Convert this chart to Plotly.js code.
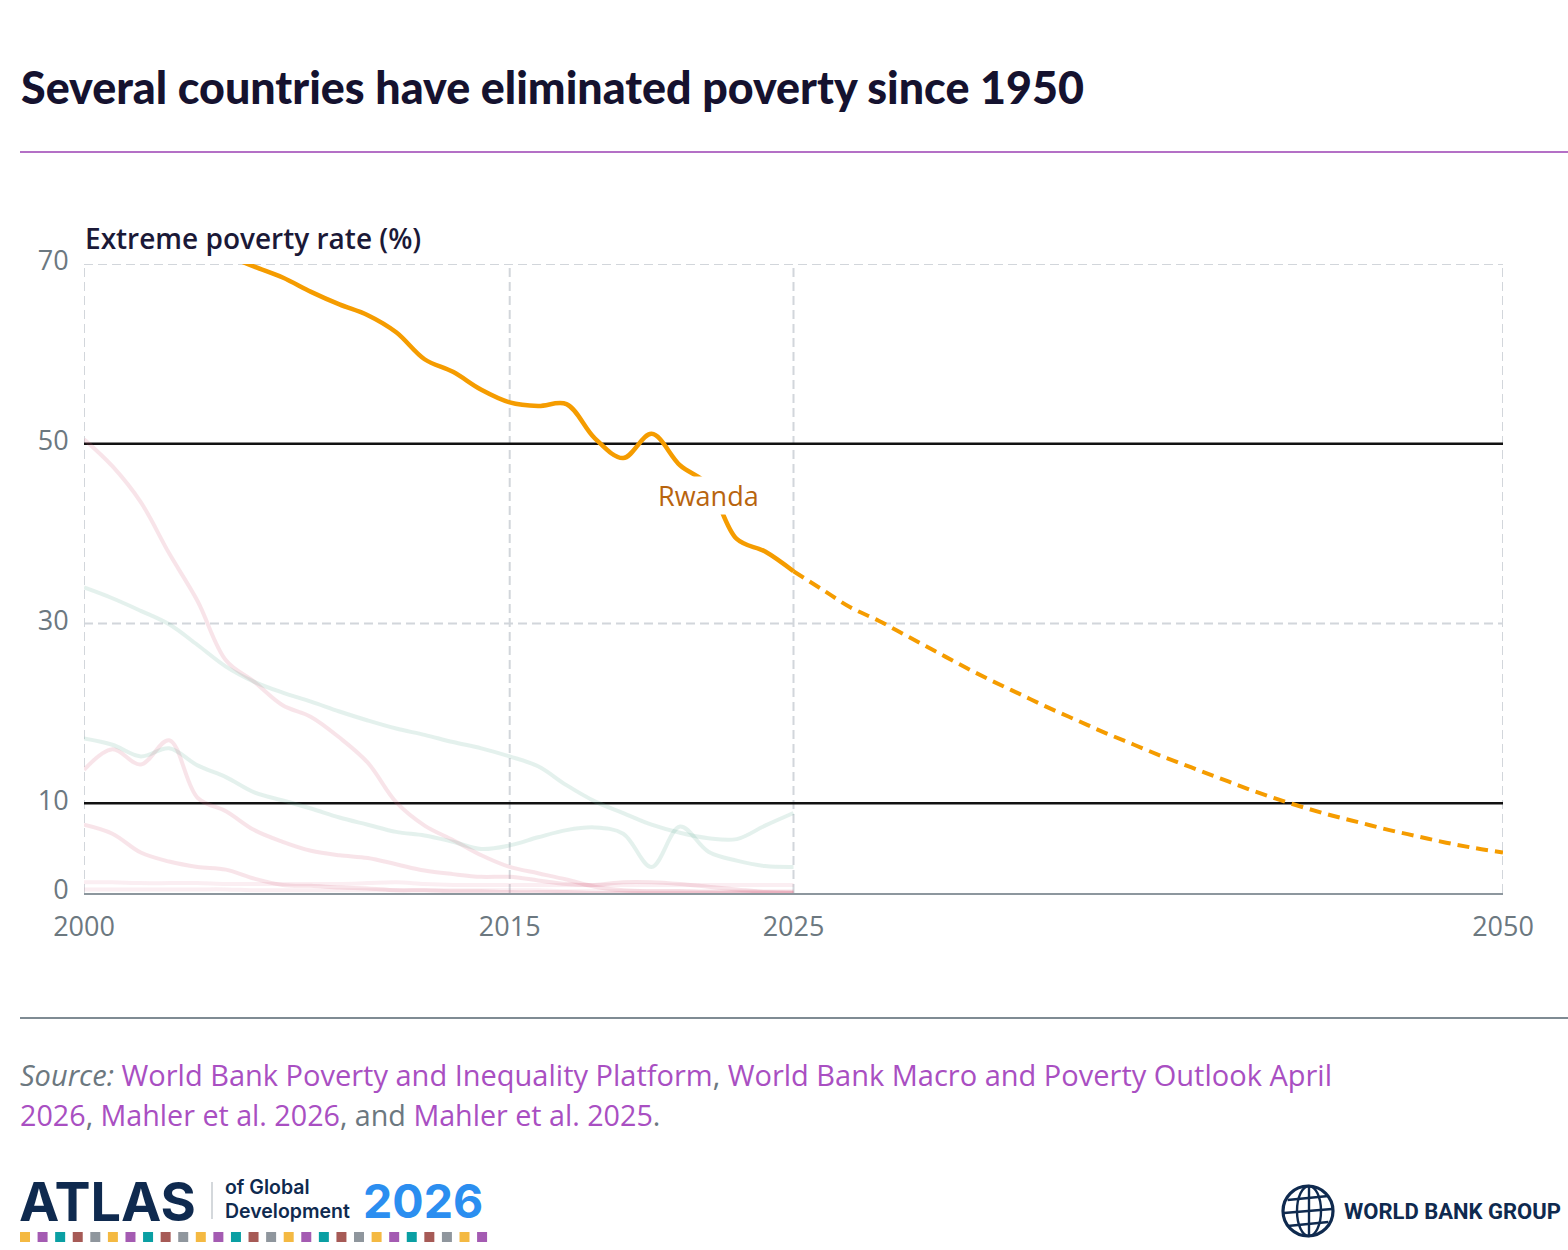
<!DOCTYPE html>
<html>
<head>
<meta charset="utf-8">
<script src="https://cdn.plot.ly/plotly-3.0.1.min.js"></script>
<style>
  html, body { margin: 0; padding: 0; background: #ffffff; }
  #chart { width: 1568px; height: 1250px; }
</style>
</head>
<body>
<div id="chart"></div>
<script>
// ---- data -------------------------------------------------------------
const histYears = [2000, 2001, 2002, 2003, 2004, 2005, 2006, 2007, 2008, 2009,
                   2010, 2011, 2012, 2013, 2014, 2015, 2016, 2017, 2018, 2019,
                   2020, 2021, 2022, 2023, 2024, 2025];
const projYears = [2025, 2026, 2027, 2028, 2029, 2030, 2031, 2032, 2033, 2034,
                   2035, 2036, 2037, 2038, 2039, 2040, 2041, 2042, 2043, 2044,
                   2045, 2046, 2047, 2048, 2049, 2050];

// Rwanda: observed/nowcast and projected extreme poverty rate (%)
const rwandaHist = [77.0, 76.0, 74.8, 73.5, 72.3, 71.0, 69.7, 68.5, 66.9, 65.5,
                    64.3, 62.4, 59.4, 58.0, 56.0, 54.6, 54.2, 54.4, 50.6, 48.4,
                    51.1, 47.6, 45.4, 39.4, 38.0, 35.8];
const rwandaProj = [35.8, 33.8, 31.8, 30.3, 28.6, 26.9, 25.2, 23.6, 22.1, 20.6,
                    19.2, 17.8, 16.5, 15.2, 14.0, 12.8, 11.6, 10.5, 9.5, 8.6,
                    7.8, 7.0, 6.3, 5.6, 5.0, 4.5];

// Background countries (faint context lines)
const tealA = [34.0, 32.8, 31.4, 29.9, 27.6, 25.2, 23.5, 22.3, 21.3, 20.2,
               19.2, 18.3, 17.6, 16.8, 16.1, 15.2, 14.1, 12.0, 10.2, 8.9,
               7.6, 6.7, 6.1, 6.0, 7.5, 8.9];
const tealB = [17.2, 16.5, 15.2, 16.1, 14.2, 12.9, 11.2, 10.3, 9.4, 8.4,
               7.6, 6.8, 6.4, 5.7, 4.9, 5.3, 6.2, 7.0, 7.3, 6.6,
               2.9, 7.4, 4.6, 3.6, 3.0, 2.9];
const pinkA = [50.5, 47.5, 43.5, 37.8, 32.5, 25.9, 23.5, 20.9, 19.6, 17.3,
               14.5, 10.1, 7.5, 5.9, 4.2, 2.9, 2.2, 1.5, 0.7, 0.3,
               0.2, 0.2, 0.1, 0.1, 0.1, 0.1];
const pinkB = [13.7, 16.0, 14.3, 17.0, 10.6, 9.1, 7.0, 5.7, 4.7, 4.2,
               3.9, 3.2, 2.5, 2.1, 1.8, 1.8, 1.4, 1.0, 0.9, 1.2,
               1.2, 1.0, 0.7, 0.4, 0.1, 0.0];
const pinkC = [7.6, 6.6, 4.5, 3.5, 2.9, 2.6, 1.6, 0.9, 0.8, 0.6,
               0.5, 0.3, 0.3, 0.2, 0.2, 0.1, 0.1, 0.1, 0.0, 0.0,
               0.0, 0.0, 0.0, 0.0, 0.0, 0.0];
const pinkD = [1.2, 1.2, 1.1, 1.1, 1.1, 1.0, 1.0, 1.0, 1.0, 1.0,
               1.1, 1.2, 1.0, 0.9, 0.9, 0.9, 0.9, 0.9, 0.9, 0.9,
               0.9, 0.9, 0.9, 0.9, 0.9, 0.9];
const pinkE = [0.4, 0.4, 0.4, 0.4, 0.4, 0.4, 0.3, 0.3, 0.3, 0.3,
               0.3, 0.3, 0.3, 0.3, 0.3, 0.3, 0.3, 0.2, 0.2, 0.2,
               0.2, 0.2, 0.2, 0.2, 0.2, 0.2];

const xTicks = [2000, 2015, 2025, 2050];
const yTicks = [0, 10, 30, 50, 70];
const dashedLevels = [30, 70];
const refLevels = [50, 10];

// ---- page geometry ----------------------------------------------------
const W = 1568, H = 1250;
const M = { l: 84, r: 65, t: 264, b: 357 };
const pw = W - M.l - M.r, ph = H - M.t - M.b;
const fx = p => (p - M.l) / pw;          // page px -> paper x
const fy = p => (H - M.b - p) / ph;      // page px -> paper y

const NAVY = '#15122f';
const GREY = '#6c7880';
const PURPLE = '#a94fc2';
const ORANGE = '#f59c00';

// ---- traces -----------------------------------------------------------
const faint = (y, color) => ({
  x: histYears, y: y, type: 'scatter', mode: 'lines',
  line: { color: color, width: 4, shape: 'spline', smoothing: 1 },
  hoverinfo: 'skip', showlegend: false
});
const PINK = 'rgba(214, 92, 124, 0.17)';
const TEAL = 'rgba(92, 170, 150, 0.17)';

const traces = [
  faint(pinkE, 'rgba(214, 92, 124, 0.10)'),
  faint(pinkD, 'rgba(214, 92, 124, 0.10)'),
  faint(pinkC, PINK),
  faint(pinkB, PINK),
  faint(pinkA, PINK),
  faint(tealB, TEAL),
  faint(tealA, TEAL),
  {
    x: histYears, y: rwandaHist, type: 'scatter', mode: 'lines', name: 'Rwanda',
    line: { color: ORANGE, width: 4.5, shape: 'spline', smoothing: 1 },
    showlegend: false
  },
  {
    x: projYears, y: rwandaProj, type: 'scatter', mode: 'lines', name: 'Rwanda (projection)',
    line: { color: ORANGE, width: 4, dash: '12px,7px', shape: 'spline', smoothing: 1 },
    showlegend: false
  }
];

// ---- shapes -----------------------------------------------------------
const shapes = [];
const gridLine = { color: '#d2d6db', width: 2, dash: '9px,5px' };
xTicks.forEach(v => shapes.push({
  type: 'line', xref: 'x', yref: 'y', x0: v, x1: v, y0: 0, y1: 70,
  line: gridLine, layer: 'below'
}));
dashedLevels.forEach(v => shapes.push({
  type: 'line', xref: 'x', yref: 'y', x0: 2000, x1: 2050, y0: v, y1: v,
  line: gridLine, layer: 'below'
}));
refLevels.forEach(v => shapes.push({
  type: 'line', xref: 'x', yref: 'y', x0: 2000, x1: 2050, y0: v, y1: v,
  line: { color: '#111111', width: 2.5 }, layer: 'below'
}));
// header and footer rules
shapes.push({ type: 'line', xref: 'paper', yref: 'paper',
  x0: fx(20), x1: fx(1568), y0: fy(152), y1: fy(152),
  line: { color: '#b470c6', width: 2 } });
shapes.push({ type: 'line', xref: 'paper', yref: 'paper',
  x0: fx(20), x1: fx(1568), y0: fy(1018), y1: fy(1018),
  line: { color: '#7f8b93', width: 2 } });
// logo divider
shapes.push({ type: 'line', xref: 'paper', yref: 'paper',
  x0: fx(212), x1: fx(212), y0: fy(1182), y1: fy(1219),
  line: { color: '#b8bec4', width: 1.2 } });
// logo colour strip
const stripColors = ['#f4b942', '#a45bb2', '#0a9fa3', '#a65a56', '#8f969d'];
for (let i = 0; i < 27; i++) {
  const cx = 25 + i * 17.58;
  shapes.push({ type: 'rect', xref: 'paper', yref: 'paper',
    x0: fx(cx - 5), x1: fx(cx + 5), y0: fy(1242), y1: fy(1232),
    fillcolor: stripColors[i % 5], line: { width: 0 } });
}
// globe emblem
const gcx = 1308, gcy = 1211, gr = 25;
const globeLine = { color: '#0f2a4f', width: 3.2 };
shapes.push({ type: 'circle', xref: 'paper', yref: 'paper',
  x0: fx(gcx - gr), x1: fx(gcx + gr), y0: fy(gcy + gr), y1: fy(gcy - gr), line: globeLine });
shapes.push({ type: 'circle', xref: 'paper', yref: 'paper',
  x0: fx(gcx - 11), x1: fx(gcx + 13), y0: fy(gcy + gr), y1: fy(gcy - gr),
  line: { color: '#0f2a4f', width: 2.4 } });
shapes.push({ type: 'line', xref: 'paper', yref: 'paper',
  x0: fx(gcx + 1), x1: fx(gcx + 1), y0: fy(gcy + gr), y1: fy(gcy - gr),
  line: { color: '#0f2a4f', width: 2.4 } });
[-13, 0, 13].forEach(dy => {
  const hw = Math.sqrt(gr * gr - dy * dy) - 1;
  shapes.push({ type: 'line', xref: 'paper', yref: 'paper',
    x0: fx(gcx - hw), x1: fx(gcx + hw), y0: fy(gcy + dy + 2), y1: fy(gcy + dy - 2),
    line: { color: '#0f2a4f', width: 2.4 } });
});

// ---- annotations ------------------------------------------------------
const ann = (x, y, text, font, extra) => Object.assign({
  xref: 'paper', yref: 'paper', x: fx(x), y: fy(y), text: text,
  showarrow: false, xanchor: 'left', yanchor: 'middle', font: font
}, extra || {});

const annotations = [
  ann(19, 87, 'Several countries have eliminated poverty since 1950',
      { family: 'Lato, sans-serif', size: 44.8, color: NAVY, weight: 900 }),
  ann(83, 238, 'Extreme poverty rate (%)',
      { family: 'Open Sans, sans-serif', size: 28, color: '#1b1937', weight: 600 }),
  {
    xref: 'x', yref: 'y', x: 2022.0, y: 44.2, text: 'Rwanda', showarrow: false,
    font: { family: 'Open Sans, sans-serif', size: 27, color: '#b8640e' },
    bgcolor: '#ffffff', borderpad: 0, xanchor: 'center', yanchor: 'middle'
  },
  ann(18, 1074,
      '<i><span style="color:' + GREY + '">Source:</span></i> ' +
      '<span style="color:' + PURPLE + '">World Bank Poverty and Inequality Platform</span>' +
      '<span style="color:' + GREY + '">, </span>' +
      '<span style="color:' + PURPLE + '">World Bank Macro and Poverty Outlook April</span>',
      { family: 'Open Sans, sans-serif', size: 29, color: GREY }),
  ann(18, 1114,
      '<span style="color:' + PURPLE + '">2026</span>' +
      '<span style="color:' + GREY + '">, </span>' +
      '<span style="color:' + PURPLE + '">Mahler et al. 2026</span>' +
      '<span style="color:' + GREY + '">, and </span>' +
      '<span style="color:' + PURPLE + '">Mahler et al. 2025</span>' +
      '<span style="color:' + GREY + '">.</span>',
      { family: 'Open Sans, sans-serif', size: 28.7, color: GREY }),
  ann(17, 1201, 'ATLAS', { family: 'Inter, sans-serif', size: 54, color: '#0f2a4f', weight: 700 }),
  ann(223, 1187, 'of Global', { family: 'Inter, sans-serif', size: 19.5, color: '#0f2a4f', weight: 600 }),
  ann(223, 1211, 'Development', { family: 'Inter, sans-serif', size: 19.5, color: '#0f2a4f', weight: 600 }),
  ann(361, 1201, '2026', { family: 'Inter, sans-serif', size: 46.5, color: '#2b8ef0', weight: 700 }),
  ann(1342, 1211, 'WORLD BANK GROUP', { family: 'Roboto, sans-serif', size: 22, color: '#0f2a4f', weight: 700 })
];

// ---- layout -----------------------------------------------------------
const layout = {
  width: W, height: H,
  margin: M,
  paper_bgcolor: '#ffffff', plot_bgcolor: '#ffffff',
  showlegend: false,
  xaxis: {
    range: [2000, 2050], tickmode: 'array', tickvals: xTicks,
    ticktext: xTicks.map(String), showgrid: false,
    zeroline: false, showline: true, linecolor: '#8d979e', linewidth: 2,
    ticks: 'outside', ticklen: 9, tickcolor: 'rgba(0,0,0,0)',
    tickfont: { family: 'Open Sans, sans-serif', size: 27, color: GREY },
    fixedrange: true
  },
  yaxis: {
    range: [0, 70], tickmode: 'array', tickvals: yTicks,
    ticktext: yTicks.map(String), showgrid: false,
    zeroline: false, showline: false,
    ticks: 'outside', ticklen: 9, tickcolor: 'rgba(0,0,0,0)',
    ticklabelshift: -3,
    tickfont: { family: 'Open Sans, sans-serif', size: 27, color: GREY },
    fixedrange: true
  },
  shapes: shapes,
  annotations: annotations
};

Plotly.newPlot('chart', traces, layout, { displayModeBar: false, staticPlot: true });
</script>
</body>
</html>
